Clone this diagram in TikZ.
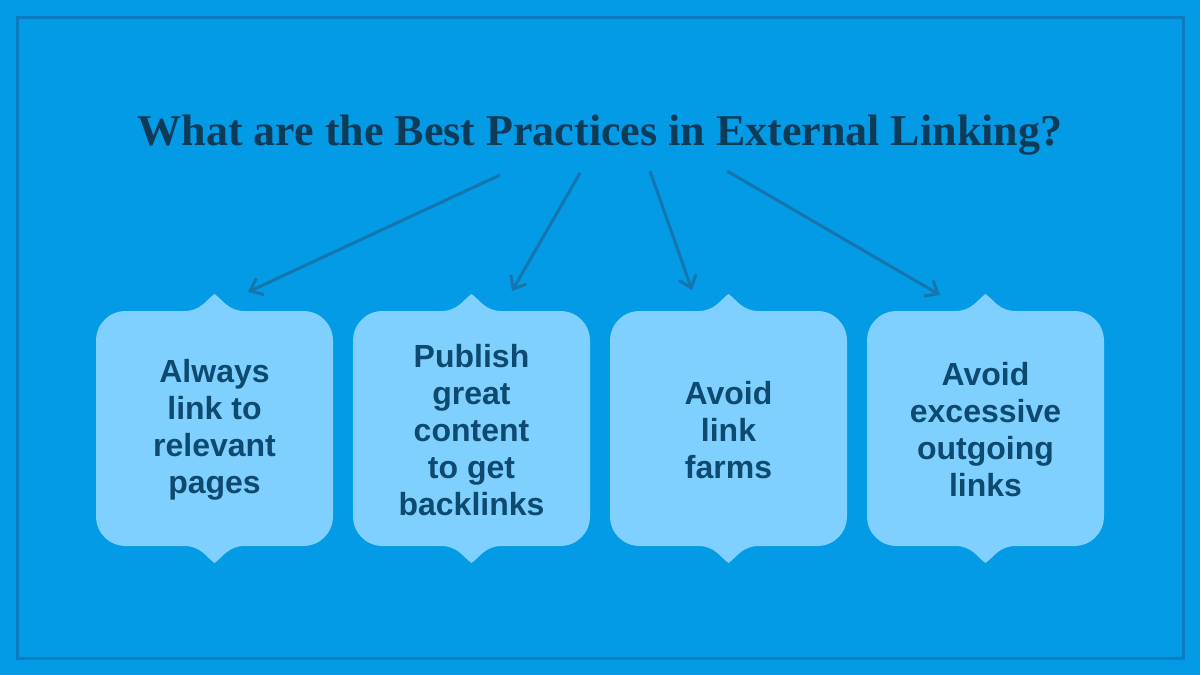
\documentclass[tikz,border=0pt]{standalone}
\usepackage{fontspec}
\setmainfont{Liberation Serif}
\setsansfont{Liberation Sans}
\usetikzlibrary{arrows.meta}
\definecolor{bg}{HTML}{039BE5}
\definecolor{frame}{HTML}{0A7CBF}
\definecolor{boxc}{HTML}{80D0FF}
\definecolor{txt}{HTML}{0D4A70}
\definecolor{ttl}{HTML}{0E3B58}
\definecolor{arr}{HTML}{1575AE}
\newcommand{\bubblebox}[2]{%
  \fill[boxc] (#1+30,311) -- (#1+88,311)
    .. controls (#1+105,311) and (#1+110,300) .. (#1+118.5,294)
    .. controls (#1+127,300) and (#1+132,311) .. (#1+149,311)
    -- (#1+207,311) .. controls (#1+224,311) and (#1+237,324) .. (#1+237,341)
    -- (#1+237,516) .. controls (#1+237,533) and (#1+224,546) .. (#1+207,546)
    -- (#1+149,546)
    .. controls (#1+132,546) and (#1+127,557) .. (#1+118.5,563)
    .. controls (#1+110,557) and (#1+105,546) .. (#1+88,546)
    -- (#1+30,546) .. controls (#1+13,546) and (#1,533) .. (#1,516)
    -- (#1,341) .. controls (#1,324) and (#1+13,311) .. (#1+30,311) -- cycle;
  \coordinate (#2top) at (#1+118.5,294);}
\begin{document}
\begin{tikzpicture}[x=1pt,y=-1pt,
  lbl/.style={font=\sffamily\bfseries\fontsize{32}{37}\selectfont,text=txt,align=center},
  arw/.style={draw=arr,line width=3pt,-{Straight Barb[length=11pt,width=18pt]}}]
\fill[bg] (0,0) rectangle (1200,675);
\useasboundingbox (0,0) rectangle (1200,675);
\draw[frame,line width=3pt] (17,17) rectangle (1183,658);
\node[font=\bfseries\fontsize{44}{48}\selectfont,text=ttl] (title) at (600,135) {What are the Best Practices in External Linking?};
\bubblebox{96}{b1}
\bubblebox{353}{b2}
\bubblebox{610}{b3}
\bubblebox{867}{b4}
\node[lbl] (t1) at (214.5,430) {Always\\link to\\relevant\\pages};
\node[lbl] (t2) at (471.5,430) {Publish\\great\\content\\to get\\backlinks};
\node[lbl] (t3) at (728.5,430) {Avoid\\link\\farms};
\node[lbl] (t4) at (985.5,430) {Avoid\\excessive\\outgoing\\links};
\coordinate (s1) at (500,175); \coordinate (e1) at (248,292);
\coordinate (s2) at (580,173); \coordinate (e2) at (512,291);
\coordinate (s3) at (650,171); \coordinate (e3) at (692,290);
\coordinate (s4) at (727,171); \coordinate (e4) at (940,295);
\draw[arw] (s1) -- (e1);
\draw[arw] (s2) -- (e2);
\draw[arw] (s3) -- (e3);
\draw[arw] (s4) -- (e4);
\end{tikzpicture}
\end{document}
